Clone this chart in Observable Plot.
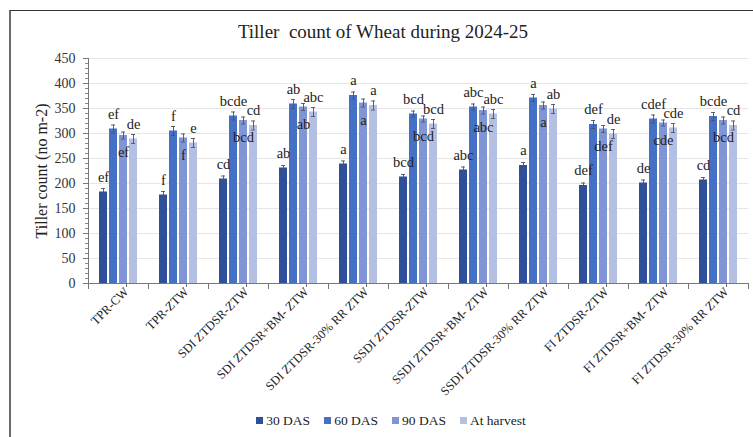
<!DOCTYPE html>
<html>
<head>
<meta charset="utf-8">
<script src="https://cdn.jsdelivr.net/npm/d3@7"></script>
<script src="https://cdn.jsdelivr.net/npm/@observablehq/plot@0.6"></script>
<style>
  html, body { margin: 0; padding: 0; background: #fff; }
  #chart { position: relative; width: 753px; height: 437px; overflow: hidden; font-family: "Liberation Serif", "Times New Roman", serif; }
  #border { position: absolute; left: 9px; top: 10px; width: 800px; height: 500px; border-left: 2px solid #6b6b6b; border-top: 1.5px solid #333; box-sizing: border-box; }
  #title { position: absolute; left: 0; width: 766px; top: 21px; line-height: 22px; text-align: center; font-size: 19px; color: #222; }
  #legend { position: absolute; left: 0; width: 782px; top: 412px; line-height: 18px; text-align: center; font-size: 13.5px; color: #222; }
  #legend span.item { margin: 0 7px; }
  #legend span.sw { display: inline-block; width: 7px; height: 7px; margin-right: 3px; vertical-align: 1px; }
  #plot { position: absolute; left: 0; top: 0; }
  #plot svg, #plot text { font-family: "Liberation Serif", "Times New Roman", serif !important; }
</style>
</head>
<body>
<div id="chart">
  <div id="border"></div>
  <div id="plot"></div>
  <div id="title">Tiller&nbsp; count of Wheat during 2024-25</div>
  <div id="legend"></div>
</div>
<script>
// Treatments along the x axis
const categories = [
  "TPR-CW", "TPR-ZTW", "SDI ZTDSR-ZTW", "SDI ZTDSR+BM- ZTW", "SDI ZTDSR-30% RR ZTW",
  "SSDI ZTDSR-ZTW", "SSDI ZTDSR+BM- ZTW", "SSDI ZTDSR-30% RR ZTW",
  "FI ZTDSR-ZTW", "FI ZTDSR+BM- ZTW", "FI ZTDSR-30% RR ZTW"
];

// Sampling stages
const series = ["30 DAS", "60 DAS", "90 DAS", "At harvest"];
const colors = ["#2e509a", "#4470c6", "#7f95d6", "#b4bfe4"];

// Tiller count (no m-2) per stage
const das30   = [183, 177, 209, 231, 239, 213, 227, 236, 196, 201, 207];
const das60   = [309, 305, 335, 359, 376, 339, 353, 371, 318, 329, 334];
const das90   = [296, 291, 326, 353, 361, 329, 346, 356, 309, 321, 326];
const harvest = [289, 281, 316, 343, 356, 319, 339, 349, 299, 311, 316];

// Standard errors
const err30   = [7, 7, 6, 5, 6, 5, 6, 6, 5, 6, 5];
const err60   = [8, 9, 8, 9, 7, 6, 6, 7, 8, 8, 8];
const err90   = [7, 8, 7, 7, 8, 6, 7, 7, 7, 6, 7];
const errHarv = [9, 9, 9, 9, 9, 9, 9, 9, 9, 9, 9];

// Significance letters
const let30   = ["ef", "f", "cd", "ab", "a", "bcd", "abc", "a", "def", "de", "cd"];
const let60   = ["ef", "f", "bcde", "ab", "a", "bcd", "abc", "a", "def", "cdef", "bcde"];
const let90   = ["ef", "f", "bcd", "ab", "a", "bcd", "abc", "a", "def", "cde", "bcd"];
const letHarv = ["de", "e", "cd", "abc", "a", "bcd", "abc", "ab", "de", "cde", "cd"];

const valuesBySeries = [das30, das60, das90, harvest];
const errBySeries = [err30, err60, err90, errHarv];
const lettersBySeries = [let30, let60, let90, letHarv];

const rows = [];
categories.forEach((cat, i) => {
  series.forEach((s, j) => {
    rows.push({
      cat, series: s,
      value: valuesBySeries[j][i],
      err: errBySeries[j][i],
      letter: lettersBySeries[j][i]
    });
  });
});

const W = 753, H = 437;
const mTop = 58, mBottom = 154, mLeft = 87, mRight = 5;
const innerH = H - mTop - mBottom;

const chart = Plot.plot({
  width: W,
  height: H,
  marginTop: mTop,
  marginBottom: mBottom,
  marginLeft: mLeft,
  marginRight: mRight,
  style: { background: "transparent", color: "#333" },
  fx: { domain: categories, padding: 0, label: null, axis: null },
  x: { domain: series, paddingInner: 0.19, paddingOuter: 0.93, axis: null },
  y: { domain: [0, 450], label: null },
  color: { domain: series, range: colors },
  marks: [
    Plot.gridY(d3.range(50, 451, 50), { stroke: "#e6e6e6", strokeOpacity: 1, strokeWidth: 1.2 }),
    Plot.barY(rows, { fx: "cat", x: "series", y: "value", fill: "series" }),
    Plot.ruleX(rows, { fx: "cat", x: "series", y1: d => d.value - d.err, y2: d => d.value + d.err, stroke: "#505060", strokeWidth: 0.9 }),
    Plot.tickY(rows, { fx: "cat", x: "series", y: d => d.value + d.err, stroke: "#505060", strokeWidth: 0.9, insetLeft: 2, insetRight: 2 }),
    Plot.tickY(rows, { fx: "cat", x: "series", y: d => d.value - d.err, stroke: "#505060", strokeWidth: 0.9, insetLeft: 2, insetRight: 2 }),
    Plot.text(rows.filter(d => d.series !== "90 DAS"), {
      fx: "cat", x: "series", y: "value", text: "letter", dy: -15,
      fontSize: 14.5, fill: "#222"
    }),
    Plot.text(rows.filter(d => d.series === "90 DAS"), {
      fx: "cat", x: "series", y: "value", text: "letter", dy: 17,
      fontSize: 14.5, fill: "#222"
    }),
    Plot.ruleY([0], { stroke: "#777", strokeWidth: 1 }),
    // category boundary ticks below the axis
    Plot.frame({ anchor: "left", insetTop: innerH, insetBottom: -5, stroke: "#777" }),
    Plot.frame({ anchor: "right", facetAnchor: "right", insetTop: innerH, insetBottom: -5, stroke: "#777" }),
    // y axis line
    Plot.frame({ anchor: "left", facetAnchor: "left", stroke: "#777" }),
    Plot.axisY(d3.range(0, 451, 10), { tickSize: 3, text: null, stroke: "#888" }),
    Plot.axisY(d3.range(0, 451, 50), {
      tickSize: 5, tickPadding: 8, fontSize: 14, fill: "#333", stroke: "#777",
      label: "Tiller count (no m-2)", labelAnchor: "center", labelArrow: "none", labelOffset: 53
    }),
    Plot.axisFx({
      anchor: "bottom", tickSize: 4, tickPadding: 2, dx: 8, tickRotate: -45, fontSize: 12.5, fill: "#222", stroke: "#777", label: null
    })
  ]
});

// Bigger axis title
chart.querySelectorAll("[aria-label='y-axis label'] text").forEach(t => {
  t.setAttribute("font-size", 16);
  t.style.fontSize = "16px";
  t.setAttribute("fill", "#222");
});

document.getElementById("plot").appendChild(chart);

// Legend
const legend = document.getElementById("legend");
series.forEach((s, j) => {
  const item = document.createElement("span");
  item.className = "item";
  const sw = document.createElement("span");
  sw.className = "sw";
  sw.style.background = colors[j];
  item.appendChild(sw);
  item.appendChild(document.createTextNode(s));
  legend.appendChild(item);
});
</script>
</body>
</html>
